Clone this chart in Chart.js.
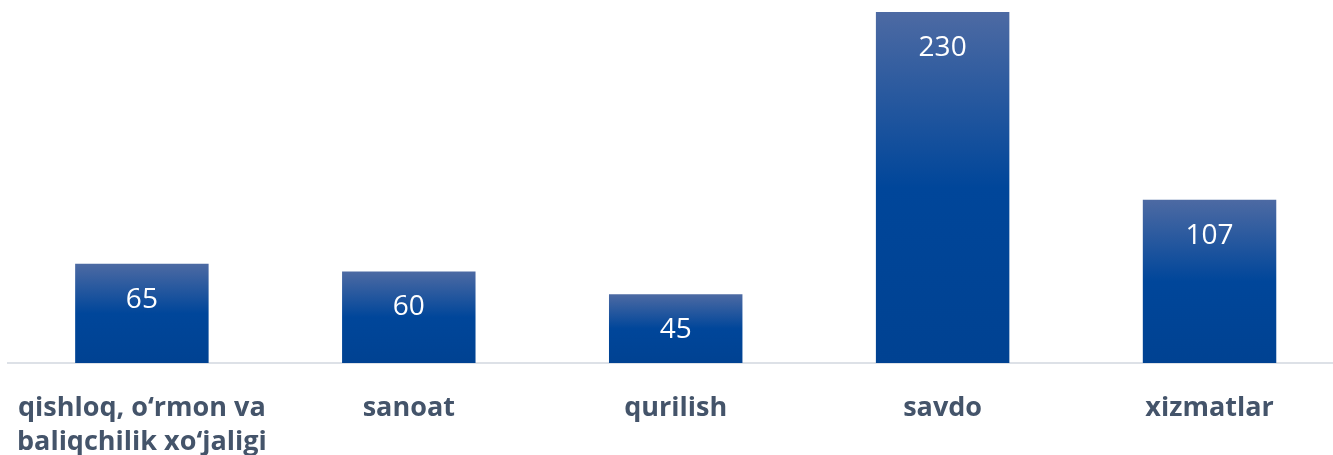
<!DOCTYPE html>
<html>
<head>
<meta charset="utf-8">
<script src="https://cdn.jsdelivr.net/npm/chart.js@4.4.0/dist/chart.umd.min.js"></script>
<style>
html,body{margin:0;padding:0;background:#fff;overflow:hidden;}
#wrap{position:relative;width:1354px;height:487px;margin-left:-11px;}
</style>
</head>
<body>
<div id="wrap"><canvas id="c"></canvas></div>
<script>
const categories = [["qishloq, o‘rmon va","baliqchilik xo‘jaligi"], "sanoat", "qurilish", "savdo", "xizmatlar"];
const values = [65, 60, 45, 230, 107];

const labelPlugin = {
  id: 'valueLabels',
  afterDatasetsDraw(chart) {
    const ctx = chart.ctx;
    const meta = chart.getDatasetMeta(0);
    ctx.save();
    ctx.fillStyle = '#ffffff';
    ctx.font = '28px "Open Sans"';
    ctx.textAlign = 'center';
    ctx.textBaseline = 'middle';
    meta.data.forEach((el, i) => {
      ctx.fillText(String(values[i]), el.x, el.y + 36);
    });
    ctx.restore();
  }
};

new Chart(document.getElementById('c'), {
  type: 'bar',
  data: {
    labels: categories,
    datasets: [{
      data: values,
      categoryPercentage: 1,
      barPercentage: 0.5,
      borderWidth: 0,
      backgroundColor: (context) => {
        const chart = context.chart;
        if (!chart.chartArea || context.type !== 'data') return '#00469a';
        const ys = chart.scales.y;
        const top = ys.getPixelForValue(context.raw);
        const base = ys.getPixelForValue(0);
        const g = chart.ctx.createLinearGradient(0, top, 0, base);
        g.addColorStop(0, '#4d6aa3');
        g.addColorStop(0.5, '#00469a');
        g.addColorStop(1, '#004292');
        return g;
      }
    }]
  },
  options: {
    responsive: true,
    maintainAspectRatio: false,
    animation: false,
    layout: { padding: { left: 0, right: 0, top: 12, bottom: 0 } },
    plugins: { legend: { display: false }, tooltip: { enabled: false } },
    scales: {
      x: {
        grid: { display: false, drawTicks: false },
        border: { display: true, color: '#dde1e7', width: 2 },
        ticks: {
          color: '#44546a',
          font: { family: '"Open Sans"', size: 27, weight: 'bold', lineHeight: 1.26 },
          padding: 28,
          maxRotation: 0,
          autoSkip: false
        }
      },
      y: {
        display: false,
        min: 0,
        max: 230
      }
    }
  },
  plugins: [labelPlugin]
});
</script>
</body>
</html>
